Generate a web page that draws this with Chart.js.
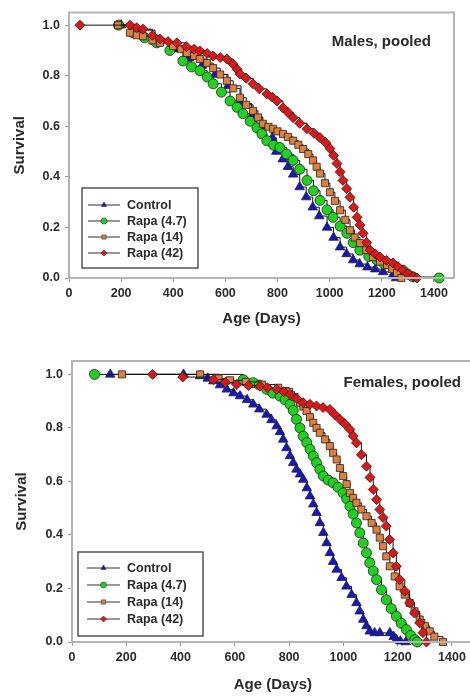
<!DOCTYPE html>
<html>
<head>
<meta charset="utf-8">
<script src="https://cdn.jsdelivr.net/npm/chart.js@4.4.1/dist/chart.umd.min.js"></script>
<style>
  html, body { margin: 0; padding: 0; background: #fff; overflow: hidden; }
  body { width: 470px; height: 696px; position: relative; }
  .panel { position: absolute; left: 0; }
</style>
</head>
<body>
<div class="panel" style="top:0;width:470px;height:335px"><canvas id="malesChart"></canvas></div>
<div class="panel" style="top:340px;width:480px;height:356px"><canvas id="femalesChart"></canvas></div>
<script>
// ===== DATA =====
const seriesNames = ['Control', 'Rapa (4.7)', 'Rapa (14)', 'Rapa (42)'];
const xTicks = [0, 200, 400, 600, 800, 1000, 1200, 1400];
const yTicks = [0, 0.2, 0.4, 0.6, 0.8, 1.0];

// Males, pooled
const maleControlDays = [200, 260, 330, 400, 460, 510, 560, 610, 660, 700, 740, 780, 795, 820, 840, 860, 885, 910, 935, 960, 990, 1015, 1040, 1065, 1090, 1115, 1145, 1175, 1205, 1240, 1255];
const maleControlSurv = [1.0, 0.98, 0.935, 0.905, 0.87, 0.84, 0.805, 0.76, 0.69, 0.64, 0.60, 0.555, 0.50, 0.47, 0.44, 0.41, 0.36, 0.32, 0.28, 0.245, 0.2, 0.16, 0.122, 0.095, 0.071, 0.055, 0.043, 0.035, 0.024, 0.008, 0];

const maleRapa47Days = [190, 245, 290, 337, 387, 437, 470, 502, 530, 553, 585, 618, 645, 667, 695, 721, 740, 759, 785, 809, 835, 860, 885, 913, 938, 963, 990, 1013, 1040, 1066, 1090, 1116, 1150, 1181, 1210, 1243, 1281, 1300, 1320, 1420];
const maleRapa47Surv = [1.0, 0.97, 0.95, 0.93, 0.9, 0.858, 0.835, 0.82, 0.795, 0.768, 0.735, 0.70, 0.675, 0.65, 0.62, 0.594, 0.57, 0.543, 0.525, 0.516, 0.49, 0.465, 0.43, 0.386, 0.345, 0.307, 0.27, 0.24, 0.205, 0.177, 0.14, 0.11, 0.085, 0.071, 0.055, 0.043, 0.031, 0.015, 0.004, 0];

const maleRapa14Days = [188, 234, 260, 284, 320, 349, 399, 430, 452, 480, 502, 530, 553, 580, 606, 630, 656, 680, 706, 725, 744, 765, 783, 800, 821, 840, 860, 880, 898, 918, 936, 950, 963, 982, 1001, 1020, 1040, 1060, 1078, 1096, 1116, 1140, 1166, 1193, 1220, 1240, 1258, 1275];
const maleRapa14Surv = [1.0, 0.97, 0.96, 0.956, 0.94, 0.93, 0.917, 0.905, 0.89, 0.878, 0.866, 0.85, 0.83, 0.805, 0.78, 0.75, 0.713, 0.685, 0.661, 0.635, 0.61, 0.598, 0.59, 0.58, 0.57, 0.558, 0.543, 0.527, 0.51, 0.49, 0.465, 0.44, 0.413, 0.375, 0.339, 0.305, 0.268, 0.23, 0.189, 0.16, 0.138, 0.11, 0.083, 0.065, 0.051, 0.035, 0.02, 0];

const maleRapa42Days = [42, 234, 260, 284, 320, 349, 380, 414, 450, 480, 502, 530, 553, 580, 606, 629, 645, 656, 680, 706, 730, 759, 780, 798, 821, 840, 860, 885, 913, 940, 963, 985, 1001, 1015, 1028, 1040, 1051, 1065, 1078, 1092, 1105, 1116, 1128, 1142, 1155, 1175, 1193, 1218, 1243, 1262, 1281, 1300, 1320, 1335];
const maleRapa42Surv = [1.0, 1.0, 0.99, 0.984, 0.96, 0.945, 0.935, 0.93, 0.915, 0.905, 0.898, 0.888, 0.878, 0.872, 0.866, 0.846, 0.825, 0.807, 0.79, 0.768, 0.748, 0.728, 0.715, 0.70, 0.673, 0.655, 0.634, 0.612, 0.59, 0.572, 0.555, 0.535, 0.512, 0.485, 0.453, 0.42, 0.386, 0.353, 0.319, 0.28, 0.24, 0.21, 0.177, 0.14, 0.11, 0.095, 0.083, 0.07, 0.059, 0.045, 0.031, 0.018, 0.006, 0];

// Females, pooled
const femaleControlDays = [141, 411, 472, 500, 521, 545, 570, 595, 619, 645, 668, 690, 717, 735, 754, 766, 778, 790, 803, 815, 827, 840, 852, 865, 877, 889, 901, 913, 926, 938, 950, 962, 975, 993, 1011, 1030, 1048, 1060, 1073, 1085, 1097, 1115, 1134, 1171, 1185, 1195, 1210, 1230];
const femaleControlSurv = [1.0, 1.0, 0.994, 0.985, 0.975, 0.96, 0.944, 0.93, 0.919, 0.905, 0.888, 0.87, 0.85, 0.83, 0.807, 0.785, 0.757, 0.725, 0.695, 0.67, 0.645, 0.627, 0.607, 0.575, 0.545, 0.515, 0.483, 0.445, 0.408, 0.37, 0.333, 0.3, 0.271, 0.24, 0.208, 0.177, 0.146, 0.115, 0.084, 0.06, 0.04, 0.034, 0.034, 0.034, 0.02, 0.009, 0.003, 0];

const femaleRapa47Days = [83, 631, 668, 690, 717, 740, 766, 785, 803, 815, 827, 840, 852, 865, 877, 889, 901, 913, 926, 944, 962, 980, 999, 1012, 1024, 1036, 1048, 1060, 1073, 1085, 1097, 1110, 1122, 1140, 1158, 1176, 1195, 1213, 1232, 1248, 1263, 1272];
const femaleRapa47Surv = [1.0, 0.98, 0.969, 0.96, 0.944, 0.93, 0.919, 0.905, 0.888, 0.865, 0.832, 0.8, 0.769, 0.745, 0.72, 0.695, 0.67, 0.645, 0.62, 0.605, 0.595, 0.578, 0.557, 0.535, 0.507, 0.478, 0.445, 0.408, 0.37, 0.333, 0.296, 0.265, 0.233, 0.195, 0.158, 0.125, 0.096, 0.07, 0.046, 0.025, 0.009, 0];

const femaleRapa14Days = [184, 472, 540, 582, 640, 700, 760, 800, 820, 840, 852, 864, 877, 889, 901, 913, 932, 950, 962, 975, 987, 999, 1012, 1024, 1036, 1048, 1066, 1085, 1104, 1122, 1134, 1146, 1158, 1171, 1189, 1207, 1226, 1244, 1262, 1281, 1300, 1318, 1335, 1367];
const femaleRapa14Surv = [1.0, 1.0, 0.985, 0.978, 0.972, 0.962, 0.95, 0.935, 0.915, 0.894, 0.88, 0.863, 0.84, 0.819, 0.8, 0.782, 0.757, 0.732, 0.707, 0.682, 0.65, 0.62, 0.59, 0.557, 0.538, 0.52, 0.495, 0.47, 0.445, 0.42, 0.39, 0.358, 0.32, 0.283, 0.245, 0.208, 0.177, 0.146, 0.115, 0.084, 0.06, 0.04, 0.02, 0];

const femaleRapa42Days = [297, 408, 521, 565, 607, 650, 693, 720, 754, 780, 803, 828, 852, 877, 901, 925, 950, 968, 987, 1005, 1024, 1036, 1048, 1066, 1085, 1098, 1110, 1122, 1134, 1146, 1158, 1170, 1183, 1195, 1207, 1226, 1244, 1262, 1281, 1293, 1306];
const femaleRapa42Surv = [1.0, 0.99, 0.98, 0.97, 0.962, 0.958, 0.956, 0.95, 0.944, 0.935, 0.925, 0.91, 0.894, 0.888, 0.882, 0.876, 0.869, 0.85, 0.832, 0.815, 0.794, 0.77, 0.744, 0.7, 0.657, 0.615, 0.57, 0.532, 0.495, 0.465, 0.433, 0.383, 0.333, 0.283, 0.233, 0.19, 0.146, 0.108, 0.071, 0.035, 0];

// ===== STYLES =====
const seriesColors = ['#1515c8', '#1ed21e', '#e0803c', '#e01515'];
const seriesShapes = ['triangle', 'circle', 'rect', 'rectRot'];
const FONT = "'Liberation Sans', Arial, sans-serif";
const TEXT = '#2a2a2a';

function toPoints(days, surv) {
    return days.map((d, i) => ({ x: d, y: surv[i] }));
}

function makeDatasets(groups) {
    return groups.map((g, i) => ({
        label: seriesNames[i],
        data: toPoints(g[0], g[1]),
        stepped: true,
        borderColor: '#111',
        borderWidth: 1,
        pointStyle: seriesShapes[i],
        pointRadius: i === 0 ? 5.5 : 5,
        pointBackgroundColor: seriesColors[i],
        pointBorderColor: '#222',
        pointBorderWidth: 0.8,
        clip: false,
        order: i === 3 ? 0 : 4 - i
    }));
}

// frame, legend box and panel label
const decorPlugin = {
    id: 'decor',
    afterDraw(chart, args, opts) {
        const ctx = chart.ctx;
        const a = chart.chartArea;
        ctx.save();
        ctx.strokeStyle = '#b4b4b4';
        ctx.lineWidth = 2;
        ctx.strokeRect(a.left, a.top, a.right - a.left, a.bottom - a.top);

        // panel label
        ctx.fillStyle = TEXT;
        ctx.font = 'bold 15px ' + FONT;
        ctx.textAlign = 'right';
        ctx.textBaseline = 'middle';
        ctx.fillText(opts.label, opts.labelX, opts.labelY);

        // legend
        const L = opts.legend;
        ctx.strokeStyle = '#555';
        ctx.lineWidth = 1.5;
        ctx.strokeRect(L.x, L.y, L.w, L.h);
        ctx.font = 'bold 12.5px ' + FONT;
        ctx.textAlign = 'left';
        seriesNames.forEach((name, i) => {
            const y = L.rowY[i];
            ctx.strokeStyle = '#333';
            ctx.lineWidth = 1;
            ctx.beginPath();
            ctx.moveTo(L.lineX0, y);
            ctx.lineTo(L.lineX1, y);
            ctx.stroke();
            ctx.fillStyle = seriesColors[i];
            ctx.strokeStyle = '#333';
            ctx.lineWidth = 0.6;
            Chart.helpers.drawPoint(ctx, { pointStyle: seriesShapes[i], radius: 3, rotation: 0, borderWidth: 0.6 },
                (L.lineX0 + L.lineX1) / 2, y);
            ctx.fillStyle = TEXT;
            ctx.fillText(name, L.textX, y + 1);
        });
        ctx.restore();
    }
};

function createPanel(canvasId, groups, p) {
    const canvas = document.getElementById(canvasId);
    return new Chart(canvas, {
        type: 'line',
        data: { datasets: makeDatasets(groups) },
        options: {
            responsive: true,
            maintainAspectRatio: false,
            animation: false,
            layout: { padding: { left: 0, right: p.padRight, top: p.padTop, bottom: 0 } },
            plugins: {
                legend: { display: false },
                tooltip: { enabled: false },
                decor: p.decor
            },
            scales: {
                x: {
                    type: 'linear',
                    min: 0,
                    max: p.xMax,
                    afterBuildTicks: s => { s.ticks = xTicks.map(v => ({ value: v })); },
                    afterFit: s => { s.height = p.xAxisH; },
                    border: { display: true, color: '#b4b4b4', width: 2 },
                    grid: { display: true, drawOnChartArea: false, drawTicks: true, tickLength: 4, color: '#999' },
                    ticks: {
                        maxRotation: 0,
                        autoSkip: false,
                        padding: 4,
                        color: TEXT,
                        font: { family: FONT, size: 12.5, weight: 'bold' },
                        callback: v => String(v)
                    },
                    title: {
                        display: true,
                        text: 'Age (Days)',
                        color: TEXT,
                        font: { family: FONT, size: 15, weight: 'bold' },
                        padding: { top: 0, bottom: p.xTitlePad }
                    }
                },
                y: {
                    type: 'linear',
                    min: 0,
                    max: 1.05,
                    afterBuildTicks: s => { s.ticks = yTicks.map(v => ({ value: v })); },
                    afterFit: s => { s.width = p.yAxisW; },
                    border: { display: true, color: '#b4b4b4', width: 2 },
                    grid: { display: true, drawOnChartArea: false, drawTicks: true, tickLength: 4, color: '#999' },
                    ticks: {
                        padding: 5,
                        color: TEXT,
                        font: { family: FONT, size: 12.5, weight: 'bold' },
                        callback: v => v.toFixed(1)
                    },
                    title: {
                        display: true,
                        text: 'Survival',
                        color: TEXT,
                        font: { family: FONT, size: 15, weight: 'bold' },
                        padding: { top: p.yTitlePad, bottom: 0 }
                    }
                }
            }
        },
        plugins: [decorPlugin]
    });
}

const malesChart = createPanel('malesChart', [
    [maleControlDays, maleControlSurv],
    [maleRapa47Days, maleRapa47Surv],
    [maleRapa14Days, maleRapa14Surv],
    [maleRapa42Days, maleRapa42Surv]
], {
    xMax: 1477, padRight: 16, padTop: 12, xAxisH: 57, yAxisW: 69, xTitlePad: 7, yTitlePad: 11,
    decor: {
        label: 'Males, pooled', labelX: 431, labelY: 42,
        legend: { x: 82, y: 188, w: 116, h: 80, rowY: [205, 221, 237, 253], lineX0: 88, lineX1: 120, textX: 127 }
    }
});

const femalesChart = createPanel('femalesChart', [
    [femaleControlDays, femaleControlSurv],
    [femaleRapa47Days, femaleRapa47Surv],
    [femaleRapa14Days, femaleRapa14Surv],
    [femaleRapa42Days, femaleRapa42Surv]
], {
    xMax: 1480, padRight: 6, padTop: 21, xAxisH: 54, yAxisW: 72, xTitlePad: 2, yTitlePad: 13,
    decor: {
        label: 'Females, pooled', labelX: 461, labelY: 43,
        legend: { x: 78, y: 212, w: 125, h: 84, rowY: [228, 245, 262, 279], lineX0: 87, lineX1: 120, textX: 127 }
    }
});
</script>
</body>
</html>
